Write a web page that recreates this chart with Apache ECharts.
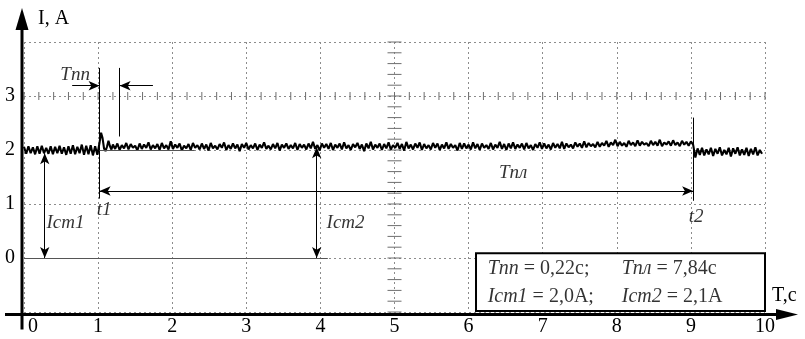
<!DOCTYPE html>
<html>
<head>
<meta charset="utf-8">
<script src="https://cdn.jsdelivr.net/npm/echarts@6/dist/echarts.min.js"></script>
<style>
  html, body { margin: 0; padding: 0; background: #fff; }
  #chart { width: 805px; height: 339px; }
</style>
</head>
<body>
<div id="chart"></div>
<script>
// tick labels
const xTickLabels = ['0', '1', '2', '3', '4', '5', '6', '7', '8', '9', '10']
const yTickLabels = ['0', '1', '2', '3']
const xAxisName = 'T,с'
const yAxisName = 'I, A'

// sampled current, A (step dt)
const dt = 0.03
const sigA = [2.06, 1.93, 2.07, 1.94, 2.05, 1.92, 2.07, 1.93, 2.08, 1.94, 2.04, 1.93, 2.07, 1.92, 2.06, 1.94, 2.08,
  1.93, 2.05, 1.91, 2.07, 1.93, 2.09, 1.92, 2.06, 1.94, 2.10, 1.91, 2.08, 1.92, 2.09, 1.90, 2.07, 1.91]
const spikeT = [1.02, 1.04, 1.06, 1.08, 1.10, 1.12, 1.14, 1.16, 1.18]
const spikeV = [2.14, 2.32, 2.22, 2.03, 1.98, 2.06, 2.17, 2.07, 2.01]
const sigBStart = 1.20
const sigB = [
  2.10, 2.02, 2.12, 2.00, 2.09, 2.03, 2.13, 2.01, 2.11, 2.04, 2.08, 1.99, 2.12, 2.02, 2.10, 2.04, 2.14, 2.01, 2.09, 2.03,
  2.11, 2.00, 2.13, 2.03, 2.09, 2.01, 2.16, 2.02, 2.10, 2.04, 2.12, 1.99, 2.08, 2.03, 2.11, 2.00, 2.13, 2.04, 2.09, 2.01,
  2.12, 2.02, 2.10, 1.99, 2.13, 2.03, 2.08, 2.01, 2.11, 2.04, 2.14, 2.00, 2.09, 2.02, 2.12, 2.03, 2.10, 1.98, 2.11, 2.04,
  2.13, 2.01, 2.09, 2.03, 2.12, 2.00, 2.10, 2.04, 2.14, 2.02, 2.08, 2.01, 2.11, 2.03, 2.13, 1.99, 2.10, 2.04, 2.12, 2.02,
  2.09, 2.03, 2.13, 2.00, 2.11, 2.04, 2.10, 2.01, 2.12, 2.03, 2.15, 2.02, 2.09, 1.99, 2.12, 2.04, 2.11, 2.02, 2.13, 2.00,
  2.10, 2.04, 2.12, 2.01, 2.14, 2.03, 2.09, 2.00, 2.11, 2.05, 2.13, 2.02, 2.10, 1.98, 2.12, 2.03, 2.15, 2.01, 2.10, 2.04,
  2.12, 2.00, 2.11, 2.03, 2.14, 2.01, 2.09, 2.04, 2.13, 2.02, 2.11, 1.99, 2.15, 2.03, 2.10, 2.01, 2.12, 2.04, 2.14, 2.00,
  2.11, 2.03, 2.09, 2.01, 2.13, 2.04, 2.12, 2.00, 2.10, 2.03, 2.14, 2.02, 2.11, 2.04, 2.09, 1.99, 2.13, 2.02, 2.12, 2.03,
  2.10, 2.01, 2.14, 2.03, 2.11, 2.00, 2.12, 2.04, 2.09, 2.02, 2.13, 2.01, 2.10, 2.04, 2.15, 2.02, 2.11, 2.00, 2.12, 2.03,
  2.14, 2.02, 2.10, 2.04, 2.12, 2.01, 2.13, 2.03, 2.09, 2.00, 2.11, 2.04, 2.14, 2.02, 2.12, 2.03, 2.10, 2.01, 2.13, 2.04,
  2.11, 2.03, 2.15, 2.02, 2.12, 2.05, 2.10, 2.03, 2.14, 2.06, 2.12, 2.04, 2.16, 2.05, 2.13, 2.07, 2.11, 2.05, 2.15, 2.06,
  2.13, 2.08, 2.17, 2.06, 2.14, 2.09, 2.19, 2.07, 2.15, 2.08, 2.13, 2.06, 2.17, 2.09, 2.14, 2.07, 2.18, 2.08, 2.15, 2.10,
  2.13, 2.07, 2.17, 2.09, 2.15, 2.08, 2.19, 2.07, 2.14, 2.10, 2.16, 2.08, 2.18, 2.09, 2.14, 2.07, 2.17, 2.10, 2.15, 2.08,
  2.16, 2.10
]
const sigCStart = 9.06
const sigC = [1.86, 2.03, 1.91, 2.04, 1.90, 2.01, 1.92, 2.04, 1.89, 2.02, 1.93, 2.05, 1.90, 2.00, 1.92, 2.04,
  1.88, 2.03, 1.93, 2.05, 1.90, 2.01, 1.91, 2.04, 1.89, 2.02, 1.92, 2.05, 1.90, 2.00, 1.93]

// guide lines: [x1, y1, x2, y2, startSymbol, endSymbol]
const guides = [
  [1.02, 3.52, 1.02, 1.10, 'none', 'none'],
  [1.29, 3.52, 1.29, 2.25, 'none', 'none'],
  [9.03, 2.60, 9.03, 1.06, 'none', 'none'],
  [0.65, 3.19, 1.02, 3.19, 'none', 'arrow'],
  [1.74, 3.19, 1.29, 3.19, 'none', 'arrow'],
  [1.02, 1.24, 9.03, 1.24, 'arrow', 'arrow'],
  [0.28, 1.94, 0.28, 0.00, 'arrow', 'arrow'],
  [3.95, 2.05, 3.95, 0.00, 'arrow', 'arrow']
]
// grey reference levels: [x1, x2, y]
const refLevels = [
  [0, 4.1, 0],
  [1.02, 2.3, 2.0]
]

// annotations
const noteX = [0.69, 6.6, 1.08, 9.07, 0.56, 4.34]
const noteY = [3.39, 1.58, 0.89, 0.76, 0.65, 0.65]
const noteText = ['Tпп', 'Tпл', 't1', 't2', 'Iст1', 'Iст2']

const boxX = [6.1, 10]
const boxY = [0.09, -0.98]
const boxNoteX = [6.25, 8.06, 6.25, 8.06]
const boxNoteY = [-0.2, -0.2, -0.72, -0.72]
const boxNoteText = ['{i|Tпп} = 0,22с;', '{i|Tпл} = 7,84с', '{i|Iст1} = 2,0A;', '{i|Iст2} = 2,1A']

const signal = []
sigA.forEach((v, i) => signal.push([i * dt, v]))
spikeT.forEach((t, i) => signal.push([t, spikeV[i]]))
sigB.forEach((v, i) => signal.push([sigBStart + i * dt, v]))
sigC.forEach((v, i) => signal.push([sigCStart + i * dt, v]))

const serif = "'Liberation Serif', 'Times New Roman', serif"
const gridColor = '#8c8c8c'

const markLines = guides.map(g => [
  { coord: [g[0], g[1]], symbol: g[4] },
  { coord: [g[2], g[3]], symbol: g[5] }
]).concat(refLevels.map(r => [
  { coord: [r[0], r[2]], symbol: 'none', lineStyle: { color: '#555', width: 1.2 } },
  { coord: [r[1], r[2]], symbol: 'none' }
]))

const chart = echarts.init(document.getElementById('chart'))

const option = {
  animation: false,
  grid: { left: 24, right: 40, top: 42, bottom: 27 },
  xAxis: {
    type: 'value',
    min: 0,
    max: 10,
    interval: 1,
    axisLine: { show: false },
    axisTick: { show: false },
    axisLabel: {
      margin: 5,
      fontFamily: serif,
      fontSize: 20,
      color: '#000',
      formatter: v => v === 0 ? '{z|' + xTickLabels[0] + '}' : xTickLabels[v],
      rich: { z: { fontFamily: serif, fontSize: 20, color: '#000', padding: [0, 0, 0, 18] } }
    },
    splitLine: { show: true, lineStyle: { color: gridColor, type: [2, 3], width: 1 } }
  },
  yAxis: {
    type: 'value',
    min: -1,
    max: 4,
    interval: 1,
    axisLine: { show: false },
    axisTick: { show: false },
    axisLabel: {
      margin: 9,
      fontFamily: serif,
      fontSize: 20,
      color: '#000',
      formatter: v => yTickLabels.indexOf(String(v)) >= 0 ? String(v) : ''
    },
    splitLine: { show: true, lineStyle: { color: gridColor, type: [2, 3], width: 1 } }
  },
  series: [
    {
      // oscilloscope-style minor ticks along the centre cross
      type: 'custom',
      silent: true,
      z: 1,
      data: [[5, 3]],
      renderItem: (params, api) => {
        const children = []
        for (let k = 0; k <= 50; k++) {
          const p = api.coord([k * 0.2, 3])
          children.push({ type: 'line', shape: { x1: p[0], y1: p[1] - 4, x2: p[0], y2: p[1] + 4 }, style: { stroke: '#6e6e6e', lineWidth: 1 } })
        }
        for (let k = 0; k <= 25; k++) {
          const p = api.coord([5, -1 + k * 0.2])
          children.push({ type: 'line', shape: { x1: p[0] - 7, y1: p[1], x2: p[0] + 7, y2: p[1] }, style: { stroke: '#6e6e6e', lineWidth: 1 } })
        }
        return { type: 'group', children }
      }
    },
    {
      name: 'I',
      type: 'line',
      data: signal,
      showSymbol: false,
      symbol: 'none',
      z: 3,
      lineStyle: { color: '#000', width: 2.1 },
      markLine: {
        silent: true,
        symbol: ['none', 'none'],
        symbolSize: [7, 11],
        precision: 3,
        label: { show: false },
        lineStyle: { color: '#000', width: 1, type: 'solid' },
        data: markLines
      },
      markArea: {
        silent: true,
        itemStyle: { color: '#fff', borderColor: '#000', borderWidth: 2 },
        data: [[{ coord: [boxX[0], boxY[0]] }, { coord: [boxX[1], boxY[1]] }]]
      }
    },
    {
      type: 'scatter',
      silent: true,
      z: 4,
      symbolSize: 1,
      itemStyle: { color: 'rgba(0,0,0,0)' },
      data: noteX.map((x, i) => [x, noteY[i], noteText[i]]),
      label: {
        show: true,
        position: 'inside',
        formatter: p => p.data[2],
        fontFamily: serif,
        fontStyle: 'italic',
        fontSize: 19,
        color: '#000'
      }
    },
    {
      type: 'scatter',
      silent: true,
      z: 5,
      symbolSize: 1,
      itemStyle: { color: 'rgba(0,0,0,0)' },
      data: boxNoteX.map((x, i) => [x, boxNoteY[i], boxNoteText[i]]),
      label: {
        show: true,
        position: 'right',
        distance: 0,
        align: 'left',
        verticalAlign: 'middle',
        formatter: p => p.data[2],
        fontFamily: serif,
        fontSize: 20,
        color: '#000',
        rich: {
          i: { fontFamily: serif, fontStyle: 'italic', fontSize: 20, color: '#000' }
        }
      }
    }
  ]
}

chart.setOption(option)

// thick axes with arrow heads and axis names, placed from the grid's own scale
const bl = chart.convertToPixel({ gridIndex: 0 }, [0, -1])
const tr = chart.convertToPixel({ gridIndex: 0 }, [10, 4])
const ax = bl[0] - 2
const ay = bl[1] + 2.5
chart.setOption({
  graphic: [
    { type: 'line', z: 10, shape: { x1: ax, y1: ay + 15, x2: ax, y2: tr[1] - 14 }, style: { stroke: '#000', lineWidth: 3 } },
    { type: 'polygon', z: 10, shape: { points: [[ax, tr[1] - 34], [ax - 6.5, tr[1] - 12], [ax + 6.5, tr[1] - 12]] }, style: { fill: '#000' } },
    { type: 'line', z: 10, shape: { x1: bl[0] - 19, y1: ay, x2: tr[0] + 14, y2: ay }, style: { stroke: '#000', lineWidth: 3 } },
    { type: 'polygon', z: 10, shape: { points: [[tr[0] + 33, ay], [tr[0] + 11, ay - 5.5], [tr[0] + 11, ay + 5.5]] }, style: { fill: '#000' } },
    {
      type: 'text', z: 10, x: ax + 16, y: tr[1] - 23,
      style: { text: yAxisName, fontFamily: serif, fontSize: 20, fill: '#000', align: 'left', verticalAlign: 'middle' }
    },
    {
      type: 'text', z: 10, x: tr[0] + 7, y: ay - 19,
      style: { text: xAxisName, fontFamily: serif, fontSize: 20, fill: '#000', align: 'left', verticalAlign: 'middle' }
    }
  ]
})

window.addEventListener('resize', () => {
  chart.resize()
})
</script>
</body>
</html>
